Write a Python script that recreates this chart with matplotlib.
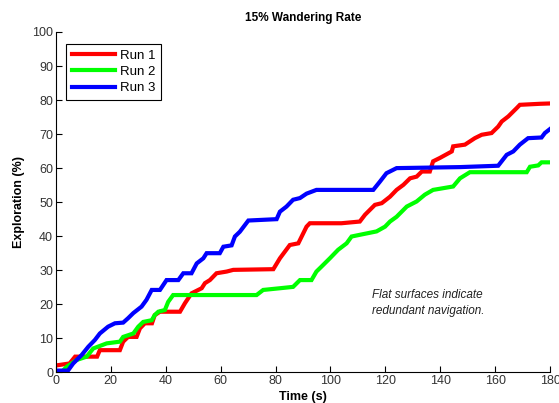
import matplotlib
matplotlib.use("Agg")
import matplotlib.pyplot as plt

plt.rcParams['font.family'] = ['Liberation Sans', 'DejaVu Sans']

title = "15% Wandering Rate"
xlabel = "Time (s)"
ylabel = "Exploration (%)"
series_names = ["Run 1", "Run 2", "Run 3"]
annotation = "Flat surfaces indicate\nredundant navigation."

x_ticks = [0, 20, 40, 60, 80, 100, 120, 140, 160, 180]
y_ticks = [0, 10, 20, 30, 40, 50, 60, 70, 80, 90, 100]

t_run1 = [0, 5, 7, 15, 16, 23.3, 24.5, 26.3, 29.4, 30.6, 32.4, 35, 36, 37.9, 45.2, 47,
          49.4, 53.1, 54.3, 56.1, 58.5, 62.2, 64.6, 79.2, 81.6, 85.2, 88.3, 91.3, 92.5,
          104, 110.7, 112.6, 116.2, 118.7, 121.7, 124.1, 126.6, 129, 131.4, 133.3, 136.2,
          137.4, 139.9, 144.2, 144.7, 149, 152.6, 155.1, 158.7, 161.1, 162.4, 164.8,
          167.8, 169, 176.3, 180]
v_run1 = [2, 2.6, 4.6, 4.6, 6.5, 6.5, 9, 10.4, 10.4, 12.9, 14.4, 14.4, 16.8, 17.8, 17.8, 20.3,
          23.2, 24.7, 26.2, 27.1, 29.1, 29.6, 30.1, 30.3, 33.5, 37.4, 37.9, 42.8, 43.8,
          43.8, 44.3, 46.3, 49.2, 49.7, 51.6, 53.6, 55.1, 57, 57.5, 59, 59,
          62, 63, 64.9, 66.4, 66.9, 68.8, 69.8, 70.3, 72.2, 73.7, 75.2,
          77.6, 78.6, 78.9, 79.0]

t_run2 = [0, 2, 3.9, 7.5, 11.2, 13.6, 18.5, 23.3, 24.5, 28.2, 30, 31.8, 34.9, 36, 37.3, 39.7,
          40.9, 42.7, 48.9, 73.1, 75.5, 81.6, 86.4, 88.9, 93.1, 94.9, 96.8, 99.8, 102.8,
          105.9, 107.7, 110.7, 116.8, 119.9, 121.7, 124.1, 127.8, 131.4, 134.4, 137.4,
          144.7, 147.2, 150.8, 171.5, 172.7, 175.7, 176.9, 180]
v_run2 = [0, 0, 1.6, 3.6, 4.6, 7, 8.5, 9, 10.4, 11.4, 13.4, 14.8, 15.3, 16.8, 17.8, 18.3,
          20.7, 22.7, 22.7, 22.7, 24.2, 24.7, 25.1, 27.1, 27.1, 29.6, 31.1, 33.5, 36,
          37.9, 39.9, 40.4, 41.4, 42.8, 44.3, 45.7, 48.7, 50.2, 52.2, 53.6,
          54.6, 57, 58.8, 58.8, 60.4, 60.8, 61.7, 61.7]

t_run3 = [0, 4.4, 6.3, 9.4, 11.8, 14.2, 16, 19, 21.5, 24.5, 26.3, 28.2, 31.2, 33, 34.9, 37.9,
          40.3, 44.6, 46.4, 49.4, 51.3, 53.7, 54.9, 59.7, 61, 64, 65.2, 67, 70.1, 80.4,
          81.6, 84, 86.4, 88.9, 91.3, 94.9, 115.6, 118, 120.4, 124.1, 147.2, 161.1,
          164.2, 166.6, 169, 172, 176.9, 178.1, 180]
v_run3 = [0.5, 0.5, 2.6, 5.1, 7.5, 9.5, 11.4, 13.4, 14.4, 14.6, 15.9, 17.4, 19.3, 21.3, 24.2, 24.2,
          27.1, 27.1, 29.1, 29.1, 32, 33.5, 35, 35, 36.9, 37.3, 39.9, 41.3, 44.6, 45,
          47.2, 48.7, 50.7, 51.2, 52.5, 53.6, 53.6, 56, 58.5, 60, 60.3, 60.7,
          63.9, 64.9, 66.9, 68.8, 69, 70.3, 71.5]

colors = ["#ff0000", "#00ff00", "#0000ff"]

fig = plt.figure(figsize=(5.59, 4.03), dpi=100)
ax = fig.add_axes([0.1, 0.0762, 0.884, 0.8444])

for t, v, c, n in zip([t_run1, t_run2, t_run3], [v_run1, v_run2, v_run3], colors, series_names):
    ax.plot(t, v, color=c, lw=3.0, label=n, solid_joinstyle='miter')

ax.set_xlim(0, 180)
ax.set_ylim(0, 100)
ax.set_xticks(x_ticks)
ax.set_yticks(y_ticks)
ax.tick_params(direction='in', length=4.5, labelsize=9, width=0.8, pad=2,
               labelcolor='#333333')
for s in ['top', 'right']:
    ax.spines[s].set_visible(False)
for s in ['left', 'bottom']:
    ax.spines[s].set_linewidth(0.8)

ax.set_title(title, fontsize=8.5, fontweight='bold', pad=8)
ax.set_xlabel(xlabel, fontsize=9, fontweight='bold', labelpad=3)
ax.set_ylabel(ylabel, fontsize=9, fontweight='bold', labelpad=5)

ax.text(115, 20.3, annotation, fontsize=8.5, style='italic', va='center', ha='left',
        linespacing=1.5, color='#222222')

leg = ax.legend(loc='upper left', bbox_to_anchor=(0.008, 0.985), fontsize=9.5,
                handlelength=3.2, fancybox=False, framealpha=1, edgecolor='black',
                borderpad=0.45, labelspacing=0.3, handletextpad=0.4)
leg.get_frame().set_linewidth(0.8)

fig.savefig("out.png", dpi=100)
